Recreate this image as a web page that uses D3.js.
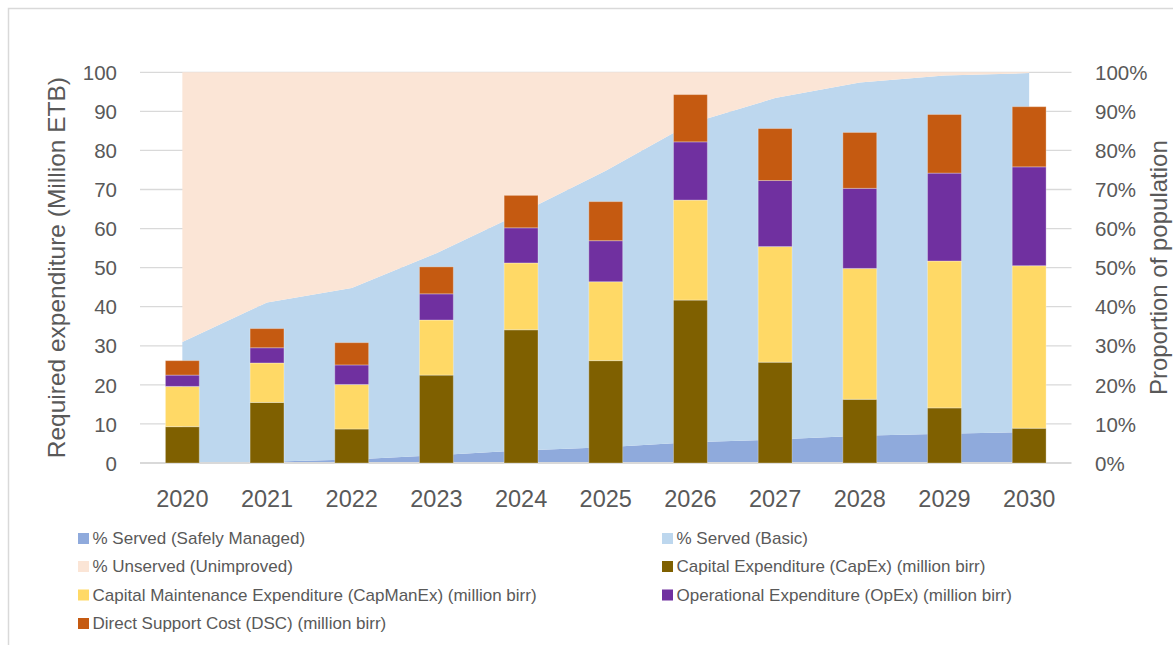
<!DOCTYPE html>
<html>
<head>
<meta charset="utf-8">
<script src="https://cdn.jsdelivr.net/npm/d3@7"></script>
<style>
  html, body { margin: 0; padding: 0; background: #fff; }
  svg { display: block; font-family: "Liberation Sans", Arial, sans-serif; }
</style>
</head>
<body>
<svg id="chart" width="1173" height="645"></svg>
<script>
// Years on the category axis
const years = ["2020","2021","2022","2023","2024","2025","2026","2027","2028","2029","2030"];

// Population coverage shares (% of population), stacked areas on the right axis
const servedSafelyManaged = [0, 0.3, 0.9, 2.0, 3.2, 4.0, 5.3, 6.0, 7.0, 7.5, 7.9];
const servedBasic         = [31.0, 40.8, 43.9, 51.7, 60.8, 70.8, 81.6, 87.4, 90.4, 91.7, 91.9];
const unservedUnimproved  = [69.0, 58.9, 55.2, 46.3, 36.0, 25.2, 13.1, 6.6, 2.6, 0.8, 0.2];

// Required expenditure by cost component (million birr), stacked bars on the left axis
const capEx    = [9.3, 15.5, 8.7, 22.5, 34.1, 26.2, 41.7, 25.8, 16.3, 14.1, 8.9];
const capManEx = [10.3, 10.1, 11.4, 14.1, 17.1, 20.2, 25.6, 29.6, 33.5, 37.6, 41.6];
const opEx     = [2.9, 3.9, 5.0, 6.7, 9.0, 10.5, 14.9, 16.9, 20.5, 22.5, 25.3];
const dsc      = [3.7, 4.9, 5.7, 6.9, 8.3, 10.0, 12.1, 13.3, 14.3, 15.0, 15.4];

// Axis ticks
const leftTicks  = [0, 10, 20, 30, 40, 50, 60, 70, 80, 90, 100];
const rightTicks = [0, 10, 20, 30, 40, 50, 60, 70, 80, 90, 100];

const areaSeries = [
  { key: "sm",    name: "% Served (Safely Managed)", values: servedSafelyManaged, color: "#8faadc" },
  { key: "basic", name: "% Served (Basic)",          values: servedBasic,         color: "#bdd7ee" },
  { key: "unsv",  name: "% Unserved (Unimproved)",   values: unservedUnimproved,  color: "#fbe5d6" }
];
const barSeries = [
  { key: "capex",    name: "Capital Expenditure (CapEx) (million birr)",                  values: capEx,    color: "#7f6000" },
  { key: "capmanex", name: "Capital Maintenance Expenditure (CapManEx) (million birr)",   values: capManEx, color: "#ffd966" },
  { key: "opex",     name: "Operational Expenditure (OpEx) (million birr)",               values: opEx,     color: "#7030a0" },
  { key: "dsc",      name: "Direct Support Cost (DSC) (million birr)",                    values: dsc,      color: "#c55a11" }
];

const svg = d3.select("#chart");
const textColor = "#595959";
const gridColor = "#d9d9d9";

const plot = { left: 140, right: 1071.5, top: 72.3, bottom: 463 };

// Outer chart frame
svg.append("rect")
  .attr("x", 8.5).attr("y", 8.5)
  .attr("width", 1180).attr("height", 660)
  .attr("fill", "#fff").attr("stroke", "#d9d9d9").attr("stroke-width", 1.5);

const x = d3.scaleBand().domain(years).range([plot.left, plot.right])
  .paddingInner(0.6).paddingOuter(0.3);
const xc = d => x(d) + x.bandwidth() / 2;
const yL = d3.scaleLinear().domain([0, 100]).range([plot.bottom, plot.top]);
const yR = d3.scaleLinear().domain([0, 100]).range([plot.bottom, plot.top]);

// Gridlines
svg.append("g").selectAll("line").data(leftTicks.filter(t => t > 0)).join("line")
  .attr("x1", plot.left).attr("x2", plot.right)
  .attr("y1", d => yL(d)).attr("y2", d => yL(d))
  .attr("stroke", gridColor).attr("stroke-width", 1.3);

// Stacked areas (population shares)
const areaRows = years.map((yr, i) => {
  const r = { year: yr };
  areaSeries.forEach(s => r[s.key] = s.values[i]);
  return r;
});
const areaStack = d3.stack().keys(areaSeries.map(s => s.key))(areaRows);
const areaGen = d3.area()
  .x(d => xc(d.data.year))
  .y0(d => yR(d[0]))
  .y1(d => yR(d[1]));
svg.append("g").selectAll("path").data(areaStack).join("path")
  .attr("d", areaGen)
  .attr("fill", (d, i) => areaSeries[i].color);

// Category axis line
svg.append("line")
  .attr("x1", plot.left).attr("x2", plot.right)
  .attr("y1", yL(0)).attr("y2", yL(0))
  .attr("stroke", gridColor).attr("stroke-width", 2);

// Stacked bars (expenditure)
const barRows = years.map((yr, i) => {
  const r = { year: yr };
  barSeries.forEach(s => r[s.key] = s.values[i]);
  return r;
});
const barStack = d3.stack().keys(barSeries.map(s => s.key))(barRows);
const barG = svg.append("g");
barStack.forEach((layer, li) => {
  barG.append("g").selectAll("rect").data(layer).join("rect")
    .attr("x", d => x(d.data.year))
    .attr("width", x.bandwidth())
    .attr("y", d => yL(d[1]))
    .attr("height", d => yL(d[0]) - yL(d[1]))
    .attr("fill", barSeries[li].color)
    .attr("stroke", "rgba(255,255,255,0.3)")
    .attr("stroke-width", 1);
});

// Left axis labels
const yAxisL = d3.axisLeft(yL).tickValues(leftTicks).tickSize(0).tickPadding(0);
const gL = svg.append("g").attr("transform", "translate(117,0)").call(yAxisL);
gL.select(".domain").remove();
gL.selectAll("text").attr("fill", textColor).attr("font-size", 20.5)
  .attr("font-family", "Liberation Sans, Arial, sans-serif").attr("dy", "0.35em");

// Right axis labels
const yAxisR = d3.axisRight(yR).tickValues(rightTicks).tickSize(0).tickPadding(0)
  .tickFormat(d => d + "%");
const gR = svg.append("g").attr("transform", "translate(1095,0)").call(yAxisR);
gR.select(".domain").remove();
gR.selectAll("text").attr("fill", textColor).attr("font-size", 20.5)
  .attr("font-family", "Liberation Sans, Arial, sans-serif").attr("dy", "0.35em");

// Category labels
const xAxis = d3.axisBottom(x).tickSize(0).tickPadding(0);
const gX = svg.append("g").attr("transform", "translate(0,507)").call(xAxis);
gX.select(".domain").remove();
gX.selectAll("text").attr("fill", textColor).attr("font-size", 23.5)
  .attr("font-family", "Liberation Sans, Arial, sans-serif").attr("dy", 0);

// Axis titles
svg.append("text")
  .attr("transform", `translate(65,${(plot.top + plot.bottom) / 2}) rotate(-90)`)
  .attr("text-anchor", "middle")
  .attr("fill", textColor).attr("font-size", 24.5)
  .text("Required expenditure (Million ETB)");
svg.append("text")
  .attr("transform", `translate(1166.5,${(plot.top + plot.bottom) / 2}) rotate(-90)`)
  .attr("text-anchor", "middle")
  .attr("fill", textColor).attr("font-size", 24)
  .text("Proportion of population");

// Legend
const legendItems = [
  areaSeries[0], areaSeries[1],
  areaSeries[2], barSeries[0],
  barSeries[1], barSeries[2],
  barSeries[3]
];
const legendCols = [78, 662];
const legendRowY = [538.5, 566.5, 595, 623.5];
const lg = svg.append("g");
legendItems.forEach((s, i) => {
  const cx = legendCols[i % 2];
  const cy = legendRowY[Math.floor(i / 2)];
  lg.append("rect").attr("x", cx).attr("y", cy - 5.5).attr("width", 11).attr("height", 11)
    .attr("fill", s.color);
  lg.append("text").attr("x", cx + 14.5).attr("y", cy).attr("dy", "0.35em")
    .attr("fill", textColor).attr("font-size", 17)
    .text(s.name);
});
</script>
</body>
</html>
